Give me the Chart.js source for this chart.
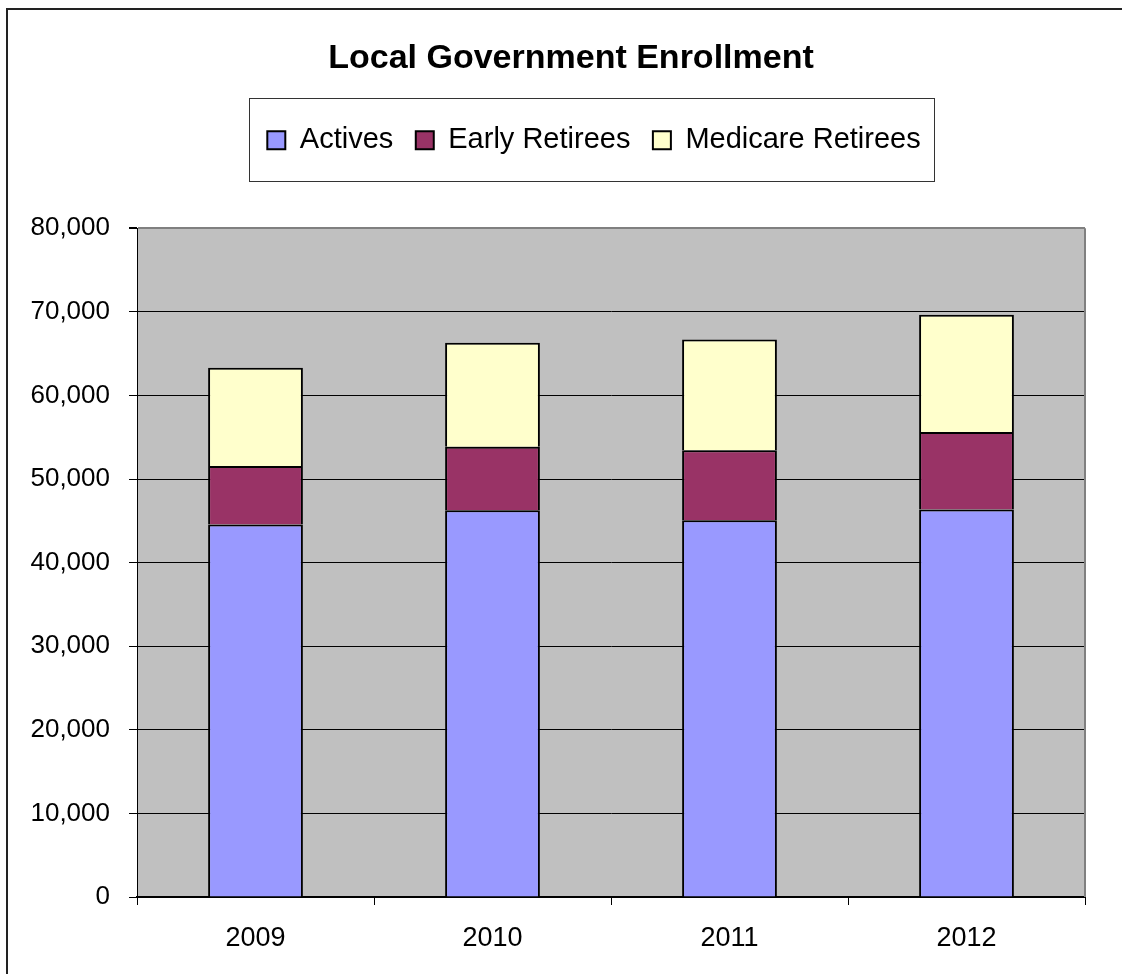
<!DOCTYPE html>
<html lang="en">
<head>
    <meta charset="UTF-8">
    <title>Local Government Enrollment</title>
    <script src="https://cdn.jsdelivr.net/npm/chart.js"></script>
    <style>
        body {
            margin: 0;
            background: #fff;
        }
        #enrollmentChart {
            display: block;
        }
    </style>
</head>
<body>
    <canvas id="enrollmentChart" width="1122" height="974"></canvas>

    <script>
        // enrollment counts per plan year
        const years = ['2009', '2010', '2011', '2012'];
        const actives = [44560, 46270, 45080, 46360];
        const earlyRetirees = [7010, 7610, 8360, 9270];
        const medicareRetirees = [11750, 12430, 13260, 14020];

        const yMax = 80000;
        const yStep = 10000;

        const FONT = '"Liberation Sans", Arial, sans-serif';

        // Excel-style frame: white sheet, grey plot area, boxed legend
        const excelFrame = {
            id: 'excelFrame',
            beforeInit(chart) {
                // leave a gap between the legend and the plot area
                const legend = chart.legend;
                const fit = legend.fit;
                legend.fit = function () {
                    fit.call(this);
                    this.height += 63.5;
                };
            },
            afterLayout(chart) {
                // title centred on the whole sheet, legend a bit right of it
                chart.titleBlock.left += 28.5;
                chart.titleBlock.right += 28.5;
                chart.legend.left += 51.5;
                chart.legend.right += 51.5;
            },
            beforeDraw(chart) {
                const { ctx, chartArea: a } = chart;
                ctx.save();
                ctx.fillStyle = '#fff';
                ctx.fillRect(0, 0, chart.width, chart.height);
                ctx.fillStyle = '#c0c0c0';
                ctx.fillRect(a.left, a.top, a.right - a.left, a.bottom - a.top);
                // outer chart border
                ctx.strokeStyle = '#222';
                ctx.lineWidth = 2;
                ctx.beginPath();
                ctx.moveTo(7, chart.height);
                ctx.lineTo(7, 9);
                ctx.lineTo(chart.width, 9);
                ctx.stroke();
                ctx.restore();
            },
            beforeDatasetsDraw(chart) {
                const { ctx, chartArea: a } = chart;
                ctx.save();
                ctx.strokeStyle = '#808080';
                ctx.lineWidth = 2;
                ctx.beginPath();
                ctx.moveTo(a.right, a.top);
                ctx.lineTo(a.right, a.bottom);
                ctx.stroke();
                ctx.restore();
            },
            afterDraw(chart) {
                const hb = chart.legend.legendHitBoxes;
                if (!hb || !hb.length) return;
                const first = hb[0];
                const last = hb[hb.length - 1];
                const midY = first.top + first.height / 2;
                const left = Math.round(first.left - 18);
                const right = Math.round(last.left + last.width + 13);
                const top = Math.round(midY - 42);
                const ctx = chart.ctx;
                ctx.save();
                ctx.strokeStyle = '#333';
                ctx.lineWidth = 1;
                ctx.strokeRect(left + 0.5, top + 0.5, right - left, 83);
                ctx.restore();
            }
        };

        const ctx = document.getElementById('enrollmentChart').getContext('2d');

        const enrollmentChart = new Chart(ctx, {
            type: 'bar',
            data: {
                labels: years,
                datasets: [
                    {
                        label: 'Actives',
                        data: actives,
                        backgroundColor: '#9999ff',
                        borderColor: '#000',
                        borderWidth: 2
                    },
                    {
                        label: 'Early Retirees',
                        data: earlyRetirees,
                        backgroundColor: '#993366',
                        borderColor: '#000',
                        borderWidth: 2
                    },
                    {
                        label: 'Medicare Retirees',
                        data: medicareRetirees,
                        backgroundColor: '#ffffcc',
                        borderColor: '#000',
                        borderWidth: 2
                    }
                ]
            },
            options: {
                responsive: false,
                animation: false,
                events: [],
                devicePixelRatio: 1,
                barPercentage: 0.4,
                categoryPercentage: 1.0,
                layout: {
                    padding: { left: 0, right: 37, top: 0, bottom: 0 }
                },
                plugins: {
                    title: {
                        display: true,
                        text: 'Local Government Enrollment',
                        color: '#000',
                        font: { family: FONT, size: 34, weight: 'bold', lineHeight: 1.2 },
                        padding: { top: 38, bottom: 24.5 }
                    },
                    legend: {
                        display: true,
                        position: 'top',
                        labels: {
                            color: '#000',
                            font: { family: FONT, size: 29 },
                            boxWidth: 18,
                            boxHeight: 18,
                            padding: 22.5
                        }
                    },
                    tooltip: { enabled: false }
                },
                scales: {
                    x: {
                        stacked: true,
                        afterFit(scale) {
                            scale.height = 77;
                        },
                        grid: {
                            offset: true,
                            drawOnChartArea: false,
                            drawTicks: true,
                            tickLength: 8,
                            tickColor: '#000'
                        },
                        border: { display: true, color: '#000', width: 2 },
                        ticks: {
                            color: '#000',
                            padding: 17,
                            font: { family: FONT, size: 27 }
                        }
                    },
                    y: {
                        stacked: true,
                        min: 0,
                        max: yMax,
                        afterFit(scale) {
                            scale.width = 137;
                        },
                        grid: {
                            color: (c) => (c.tick && c.tick.value === yMax ? '#808080' : '#000'),
                            lineWidth: (c) => (c.tick && c.tick.value === yMax ? 2 : 1),
                            tickLength: 8,
                            tickColor: '#000'
                        },
                        border: { display: true, color: '#000', width: 1 },
                        ticks: {
                            stepSize: yStep,
                            color: '#000',
                            padding: 19,
                            font: { family: FONT, size: 26 },
                            callback: (value) => value.toLocaleString('en-US')
                        }
                    }
                }
            },
            plugins: [excelFrame]
        });
    </script>
</body>
</html>
